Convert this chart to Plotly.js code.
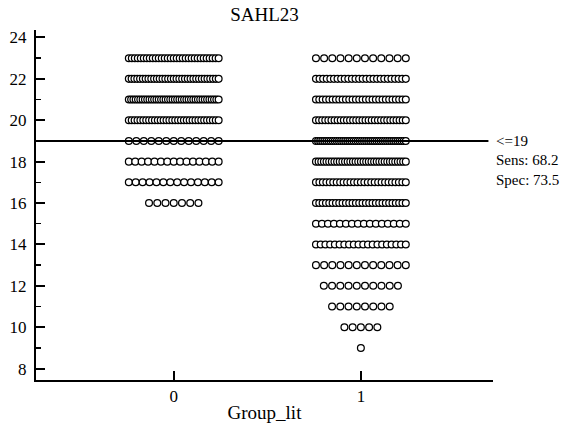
<!DOCTYPE html>
<html>
<head>
<meta charset="utf-8">
<script src="https://cdn.plot.ly/plotly-3.0.1.min.js"></script>
<style>html,body{margin:0;padding:0;background:#fff;}#chart{width:566px;height:428px;}</style>
</head>
<body>
<div id="chart"></div>
<script>
// Data (number of cases at each score)
const groupLabels = ["0", "1"];
const groupPositions = [0, 1];
const scoreValues = [9, 10, 11, 12, 13, 14, 15, 16, 17, 18, 19, 20, 21, 22, 23];
const countsGroup0 = [0, 0, 0, 0, 0, 0, 0, 7, 14, 15, 13, 32, 40, 33, 31];
const countsGroup1 = [1, 5, 8, 10, 12, 20, 16, 28, 27, 35, 44, 30, 28, 26, 12];
const criterionValue = 19;
const criterionLabels = ["<=19", "Sens: 68.2", "Spec: 73.5"];

const dotSpacing = 0.044;  // in x-axis units
const maxRowSpan = 0.48;

function buildTrace(pos, counts) {
  const xs = [], ys = [];
  counts.forEach((n, k) => {
    if (n <= 0) return;
    const span = Math.min((n - 1) * dotSpacing, maxRowSpan);
    for (let i = 0; i < n; i++) {
      const off = n === 1 ? 0 : -span / 2 + i * span / (n - 1);
      xs.push(pos + off);
      ys.push(scoreValues[k]);
    }
  });
  return {
    type: "scatter", mode: "markers", x: xs, y: ys, hoverinfo: "skip",
    marker: {symbol: "circle", size: 6.8, color: "#ffffff", line: {color: "#000000", width: 1.25}},
    showlegend: false, cliponaxis: false
  };
}

const traces = [buildTrace(groupPositions[0], countsGroup0), buildTrace(groupPositions[1], countsGroup1)];

const fontFam = "'Liberation Serif', 'Times New Roman', Times, serif";
const layout = {
  width: 566, height: 428,
  margin: {l: 36, r: 73, t: 30, b: 48},
  paper_bgcolor: "#ffffff", plot_bgcolor: "#ffffff",
  font: {family: fontFam, color: "#000000", size: 17},
  title: {text: "SAHL23", font: {family: fontFam, size: 19, color: "#000"}, x: 0.5, xref: "paper", y: 1 - 14/428, yref: "container", yanchor: "middle"},
  xaxis: {
    range: [-0.736, 1.706], tickvals: groupPositions, ticktext: groupLabels,
    showgrid: false, zeroline: false, showline: true, linecolor: "#000", linewidth: 2,
    ticks: "inside", ticklen: 9, tickwidth: 2, tickcolor: "#000",
    tickfont: {family: fontFam, size: 17},
    title: {text: "Group_lit", font: {family: fontFam, size: 19}, standoff: 0}
  },
  yaxis: {
    range: [7.45, 24.36], tickvals: [8, 10, 12, 14, 16, 18, 20, 22, 24],
    showgrid: false, zeroline: false, showline: true, linecolor: "#000", linewidth: 2,
    ticks: "inside", ticklen: 9, tickwidth: 2, tickcolor: "#000",
    minor: {ticks: "inside", ticklen: 5, tickwidth: 1.5, tickcolor: "#000", dtick: 1, tick0: 0, showgrid: false},
    tickfont: {family: fontFam, size: 17}, ticklabelstandoff: 4
  },
  shapes: [{type: "line", xref: "paper", yref: "y", x0: 0, x1: 0.99, y0: criterionValue, y1: criterionValue,
            line: {color: "#000", width: 2}, layer: "above"}],
  annotations: criterionLabels.map((t, i) => ({
    text: t, xref: "paper", yref: "y", x: 1.003, y: criterionValue, xanchor: "left", yanchor: "middle",
    yshift: -19.5 * i, showarrow: false, font: {family: fontFam, size: 15, color: "#000"}
  }))
};

Plotly.newPlot("chart", traces, layout, {displayModeBar: false, staticPlot: true});
</script>
</body>
</html>
